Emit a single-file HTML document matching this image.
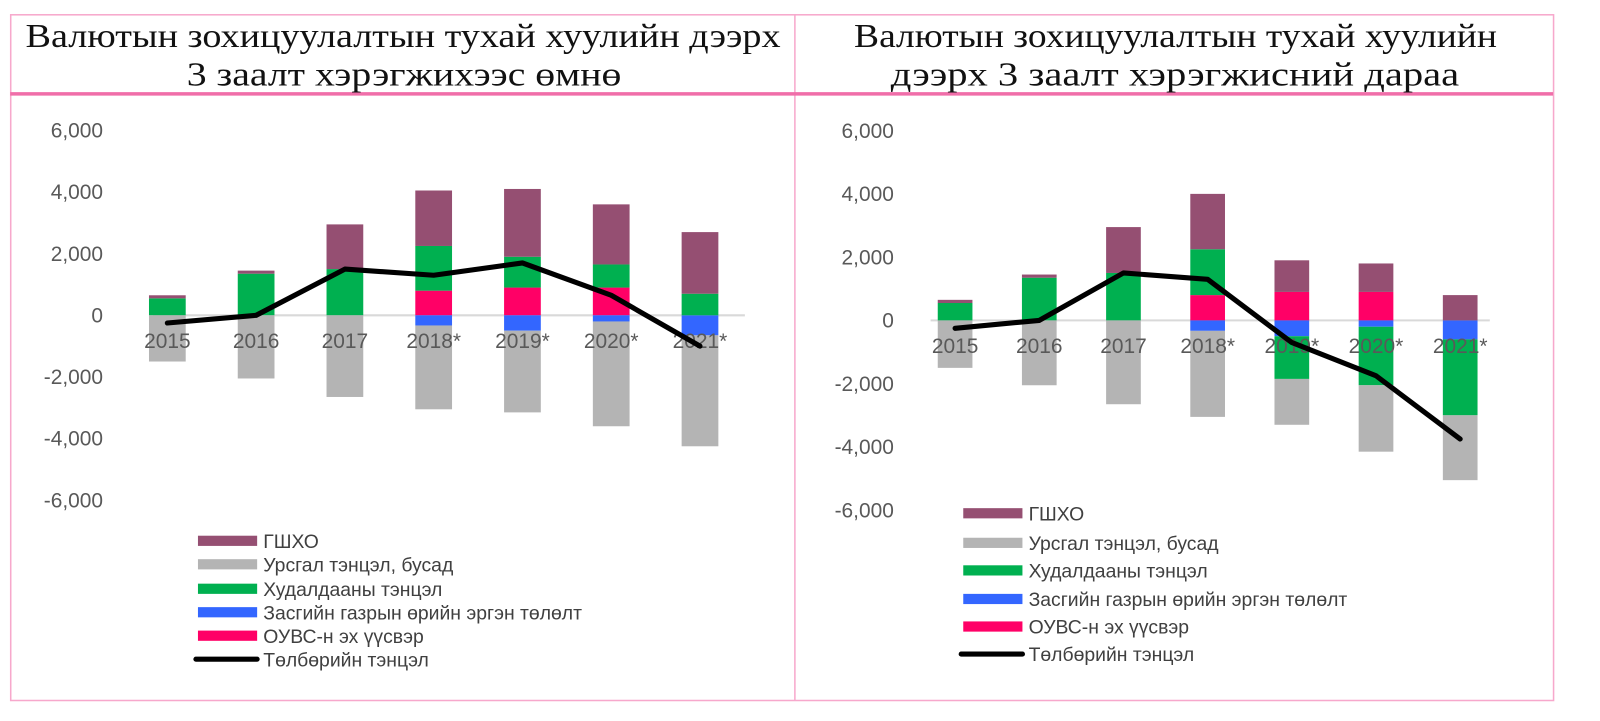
<!DOCTYPE html>
<html><head><meta charset="utf-8"><style>
html,body{margin:0;padding:0;background:#fff;}
svg{display:block;}
text{font-family:"Liberation Sans",sans-serif;}
.tick{fill:#595959;font-size:20.5px;}
.title{font-family:"Liberation Serif",serif;font-size:33px;fill:#111;}
.leg{fill:#404040;font-size:19px;}
</style></head><body>
<svg id="chart" width="1600" height="721" viewBox="0 0 1600 721" xmlns="http://www.w3.org/2000/svg">
<g transform="scale(1.0204)">
<rect x="10.5" y="14.5" width="1512" height="672" fill="#fff" stroke="#f7a8cc" stroke-width="1.5"/>
<line x1="779" y1="14" x2="779" y2="686" stroke="#f7a8cc" stroke-width="1.5"/>
<line x1="10" y1="92" x2="1522" y2="92" stroke="#f06ea9" stroke-width="3.5"/>
<text class="title" x="25" y="46" textLength="740" lengthAdjust="spacingAndGlyphs">Валютын зохицуулалтын тухай хуулийн дээрх</text>
<text class="title" x="183" y="84" textLength="426" lengthAdjust="spacingAndGlyphs">3 заалт хэрэгжихээс өмнө</text>
<text class="title" x="837" y="46" textLength="630" lengthAdjust="spacingAndGlyphs">Валютын зохицуулалтын тухай хуулийн</text>
<text class="title" x="873" y="84" textLength="557" lengthAdjust="spacingAndGlyphs">дээрх 3 заалт хэрэгжисний дараа</text>
<g id="left"></g><g id="right"></g>
</g>
</svg>
<script>
const categories=["2015","2016","2017","2018*","2019*","2020*","2021*"];
const ticks=[6000,4000,2000,0,-2000,-4000,-6000];
const seriesNames=["ОУВС-н эх үүсвэр","Засгийн газрын өрийн эргэн төлөлт","Худалдааны тэнцэл","Урсгал тэнцэл, бусад","ГШХО"];
const seriesColors=["#ff0066","#3366ff","#00b050","#b4b4b4","#954f72"];
const leftPink=[0,0,0,800,900,900,0];
const leftBlue=[0,0,0,-330,-500,-200,-650];
const leftGreen=[550,1350,1500,1450,1000,750,700];
const leftGray=[-1500,-2050,-2650,-2720,-2650,-3400,-3600];
const leftPurple=[100,100,1450,1800,2200,1950,2000];
const leftLine=[-250,0,1500,1300,1700,650,-1000];
const rightPink=[0,0,0,800,900,900,0];
const rightBlue=[0,0,0,-330,-500,-200,-600];
const rightGreen=[550,1350,1500,1450,-1350,-1850,-2400];
const rightGray=[-1500,-2050,-2650,-2720,-1450,-2100,-2050];
const rightPurple=[100,100,1450,1750,1000,900,800];
const rightLine=[-250,0,1500,1300,-700,-1750,-3750];
const legendOrder=[4,3,2,1,0];
const NS="http://www.w3.org/2000/svg";
function mk(tag,attrs,parent){const e=document.createElementNS(NS,tag);for(const k in attrs)e.setAttribute(k,attrs[k]);parent.appendChild(e);return e;}
function draw(g,side,series,line,cfg){
  const y=v=>cfg.zeroY-v*cfg.pxPer;
  const x=i=>cfg.x0+i*cfg.step;
  ticks.forEach(t=>{const e=mk("text",{class:"tick",x:cfg.tickX,y:y(t)+7,"text-anchor":"end"},g);
    
    
    e.textContent=t.toLocaleString("en-US");});
  const ax=mk("line",{x1:cfg.axL,x2:cfg.axR,y1:y(0),y2:y(0),stroke:"#d9d9d9","stroke-width":2},g);
  
  
  categories.forEach((c,i)=>{let pos=0,neg=0;
    series.forEach((s,k)=>{const v=s[i];if(!v)return;let a,b;
      if(v>0){a=pos;b=pos+v;pos=b;}else{a=neg;b=neg+v;neg=b;}
      const r=mk("rect",{x:x(i)-cfg.bw/2,y:Math.min(y(a),y(b)),width:cfg.bw,height:Math.abs(y(a)-y(b)),fill:seriesColors[k]},g);
      
      });
  });
  categories.forEach((c,i)=>{const e=mk("text",{class:"tick",x:x(i),y:cfg.catY,"text-anchor":"middle"},g);
    
    
    e.textContent=c;});
  const pl=mk("polyline",{points:line.map((v,i)=>x(i)+","+y(v)).join(" "),fill:"none",stroke:"#000","stroke-width":5,"stroke-linejoin":"round","stroke-linecap":"round"},g);
  
  
  legendOrder.forEach((k,j)=>{const yy=cfg.legY[j];
    const r=mk("rect",{x:cfg.legX,y:yy-5,width:58,height:10,fill:seriesColors[k]},g);
    
    
    const t=mk("text",{class:"leg",x:cfg.legX+64,y:yy+7},g);
    
    
    t.textContent=seriesNames[k];});
  const yy=cfg.legY[5];
  const l=mk("line",{x1:cfg.legX-2,x2:cfg.legX+58,y1:yy,y2:yy,stroke:"#000","stroke-width":5,"stroke-linecap":"round"},g);
  
  
  const t=mk("text",{class:"leg",x:cfg.legX+64,y:yy+7},g);
  
  
  t.textContent="Төлбөрийн тэнцэл";
}
draw(document.getElementById("left"),"left",[leftPink,leftBlue,leftGreen,leftGray,leftPurple],leftLine,
 {zeroY:309,pxPer:0.0302,x0:164,step:87,bw:36,tickX:101,axL:150,axR:730,catY:341,legX:194,legY:[530,553,577,600,623,646]});
draw(document.getElementById("right"),"right",[rightPink,rightBlue,rightGreen,rightGray,rightPurple],rightLine,
 {zeroY:314,pxPer:0.031,x0:936,step:82.5,bw:34,tickX:876,axL:912,axR:1460,catY:346,legX:944,legY:[503,532,559,587,614,641]});
</script>
</body></html>
